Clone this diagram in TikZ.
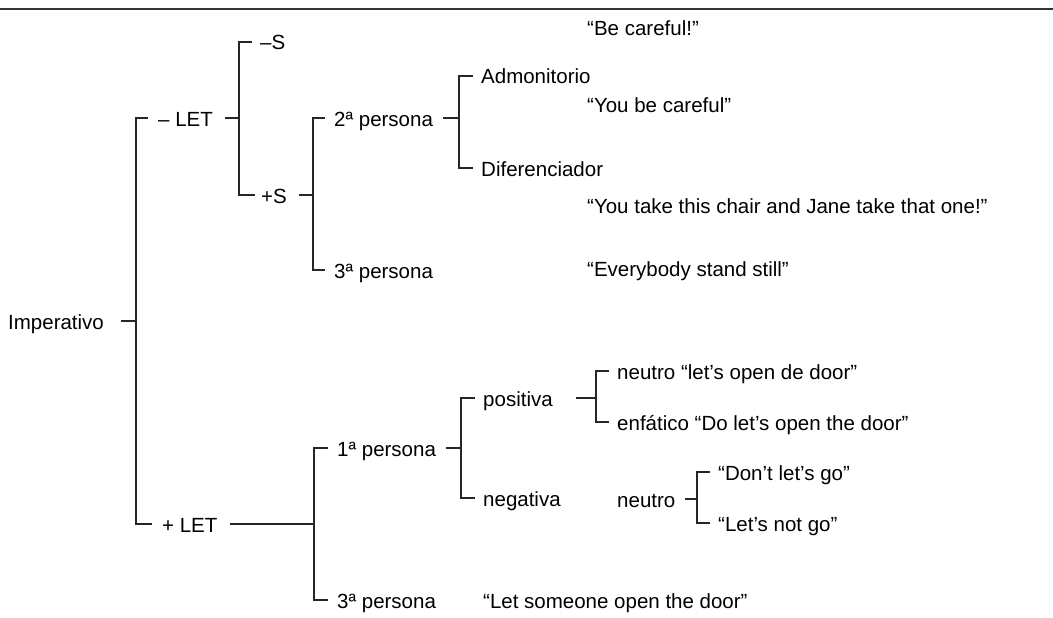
\documentclass[tikz,border=0pt]{standalone}
\usepackage{fontspec}
\setmainfont{Liberation Sans}
\begin{document}
\begin{tikzpicture}[x=1pt,y=-1pt,
  lbl/.style={anchor=west,inner sep=0pt,text height=16pt,text depth=0pt,font=\fontsize{20.5}{24}\selectfont},
  conn/.style={line width=1.4pt,draw=black!85},
  rule/.style={line width=2pt,draw=black!80}]
\useasboundingbox (0,0) rectangle (1053,618);
\coordinate (rl) at (0,9);
\coordinate (rr) at (1053,9);
\draw[rule] (rl) -- (rr);
% labels
\node[lbl] (imp) at (8,321) {Imperativo};
\node[lbl] (mlet) at (158,118) {– LET};
\node[lbl] (plet) at (162,524) {+ LET};
\node[lbl] (ms) at (260,42) {–S};
\node[lbl] (ps) at (261,195) {+S};
\node[lbl] (p2) at (334,118) {2ª persona};
\node[lbl] (p3a) at (334,270) {3ª persona};
\node[lbl] (adm) at (481,76) {Admonitorio};
\node[lbl] (dif) at (481,168) {Diferenciador};
\node[lbl] (ex1) at (587,28) {“Be careful!”};
\node[lbl] (ex2) at (587,104) {“You be careful”};
\node[lbl] (ex3) at (587,205) {“You take this chair and Jane take that one!”};
\node[lbl] (ex4) at (587,268) {“Everybody stand still”};
\node[lbl] (p1) at (337,448) {1ª persona};
\node[lbl] (p3b) at (337,600) {3ª persona};
\node[lbl] (pos) at (483,398) {positiva};
\node[lbl] (neg) at (483,498) {negativa};
\node[lbl] (ex5) at (483,600) {“Let someone open the door”};
\node[lbl] (n1) at (617,371) {neutro “let’s open de door”};
\node[lbl] (enf) at (617,422) {enfático “Do let’s open the door”};
\node[lbl] (neu) at (617,499) {neutro};
\node[lbl] (d1) at (718,472) {“Don’t let’s go”};
\node[lbl] (d2) at (718,523) {“Let’s not go”};
% spines
\coordinate (bA) at (136,0);
\coordinate (bB) at (239,0);
\coordinate (bC) at (313,0);
\coordinate (bD) at (459,0);
\coordinate (bE) at (314,0);
\coordinate (bF) at (461,0);
\coordinate (bG) at (596,0);
\coordinate (bH) at (697,0);
% brackets
\draw[conn] ([xshift=-10pt]mlet.west) -- (mlet.west -| bA) -- (plet.west -| bA) -- ([xshift=-10pt]plet.west);
\draw[conn] ([xshift=-8pt]ms.west) -- (ms.west -| bB) -- (ps.west -| bB) -- ([xshift=-6pt]ps.west);
\draw[conn] ([xshift=-9pt]p2.west) -- (p2.west -| bC) -- (p3a.west -| bC) -- ([xshift=-9pt]p3a.west);
\draw[conn] ([xshift=-8pt]adm.west) -- (adm.west -| bD) -- (dif.west -| bD) -- ([xshift=-8pt]dif.west);
\draw[conn] ([xshift=-9pt]p1.west) -- (p1.west -| bE) -- (p3b.west -| bE) -- ([xshift=-9pt]p3b.west);
\draw[conn] ([xshift=-8pt]pos.west) -- (pos.west -| bF) -- (neg.west -| bF) -- ([xshift=-8pt]neg.west);
\draw[conn] ([xshift=-8pt]n1.west) -- (n1.west -| bG) -- (enf.west -| bG) -- ([xshift=-8pt]enf.west);
\draw[conn] ([xshift=-8pt]d1.west) -- (d1.west -| bH) -- (d2.west -| bH) -- ([xshift=-8pt]d2.west);
% parent stems
\draw[conn] ([xshift=17pt]imp.east) -- (imp.east -| bA);
\draw[conn] ([xshift=12pt]mlet.east) -- (mlet.east -| bB);
\draw[conn] ([xshift=12pt]ps.east) -- (ps.east -| bC);
\draw[conn] ([xshift=10pt]p2.east) -- (p2.east -| bD);
\draw[conn] ([xshift=12pt]plet.east) -- (plet.east -| bE);
\draw[conn] ([xshift=10pt]p1.east) -- (p1.east -| bF);
\draw[conn] ([xshift=23pt]pos.east) -- (pos.east -| bG);
\draw[conn] ([xshift=9pt]neu.east) -- (neu.east -| bH);
\end{tikzpicture}
\end{document}
